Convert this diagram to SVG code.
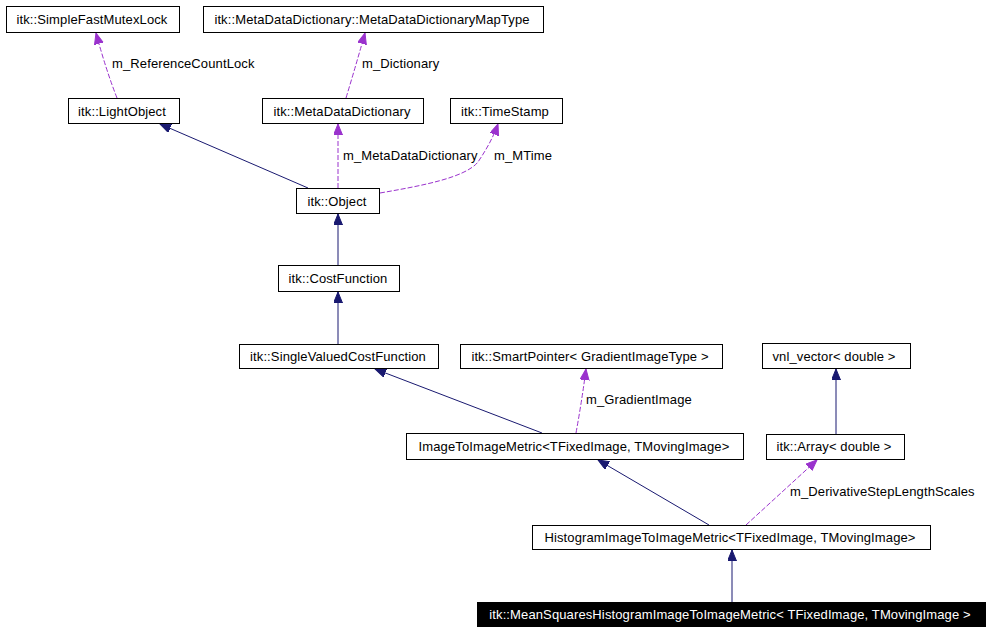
<svg xmlns="http://www.w3.org/2000/svg" width="991" height="632" viewBox="0 0 991 632">
<defs>
<style>
.box{fill:#fff;stroke:#000;stroke-width:1}
.t{font-family:"Liberation Sans",Arial,sans-serif;font-size:13px;letter-spacing:0.12px;fill:#000;text-anchor:middle}
.lbl{font-family:"Liberation Sans",Arial,sans-serif;font-size:13px;letter-spacing:0.12px;fill:#000}
.inh{fill:none;stroke:#191970;stroke-width:1}
.use{fill:none;stroke:#9a32cd;stroke-width:1;stroke-dasharray:5,2}
</style>
<marker id="ab" markerUnits="userSpaceOnUse" markerWidth="12" markerHeight="10" refX="11" refY="4.5" orient="auto"><path d="M0,0 L11,4.5 L0,9 z" fill="#191970" stroke="#191970"/></marker>
<marker id="ap" markerUnits="userSpaceOnUse" markerWidth="12" markerHeight="10" refX="11" refY="4.5" orient="auto"><path d="M0,0 L11,4.5 L0,9 z" fill="#9a32cd" stroke="#9a32cd"/></marker>
</defs>
<rect width="991" height="632" fill="#fff"/>
<g id="connectors">
<path class="use" marker-end="url(#ap)" d="M117,98 Q106,70 96,33"/>
<path class="use" marker-end="url(#ap)" d="M346,98 Q356,65 365,33"/>
<path class="inh" marker-end="url(#ab)" d="M308,188 L160,124"/>
<path class="use" marker-end="url(#ap)" d="M338,188 L338,124"/>
<path class="use" marker-end="url(#ap)" d="M380,193 C420,186 465,178 478,162 C486,150 493,138 498,124"/>
<path class="inh" marker-end="url(#ab)" d="M338,265 L338,214"/>
<path class="inh" marker-end="url(#ab)" d="M338,344 L338,292"/>
<path class="inh" marker-end="url(#ab)" d="M542,433 L375,369"/>
<path class="use" marker-end="url(#ap)" d="M576,433 Q582,400 586,369"/>
<path class="inh" marker-end="url(#ab)" d="M836,434 L836,369"/>
<path class="inh" marker-end="url(#ab)" d="M709,525 L598,460"/>
<path class="use" marker-end="url(#ap)" d="M746,525 L817,460"/>
<path class="inh" marker-end="url(#ab)" d="M732,602 L732,550"/>
<text class="lbl" x="112" y="68">m_ReferenceCountLock</text>
<text class="lbl" x="362" y="68">m_Dictionary</text>
<text class="lbl" x="343" y="160">m_MetaDataDictionary</text>
<text class="lbl" x="494" y="160">m_MTime</text>
<text class="lbl" x="586" y="404">m_GradientImage</text>
<text class="lbl" x="790" y="496">m_DerivativeStepLengthScales</text>
</g>
<g id="SimpleFastMutexLock"><rect class="box" x="6.5" y="6.5" width="173" height="26"/><text class="t" x="92" y="24">itk::SimpleFastMutexLock</text></g>
<g id="MetaDataDictionaryMapType"><rect class="box" x="203.5" y="6.5" width="340" height="26"/><text class="t" x="372" y="24">itk::MetaDataDictionary::MetaDataDictionaryMapType</text></g>
<g id="LightObject"><rect class="box" x="68.5" y="98.5" width="111" height="25"/><text class="t" x="122" y="116">itk::LightObject</text></g>
<g id="MetaDataDictionary"><rect class="box" x="262.5" y="98.5" width="161" height="25"/><text class="t" x="342" y="116">itk::MetaDataDictionary</text></g>
<g id="TimeStamp"><rect class="box" x="450.5" y="98.5" width="112" height="25"/><text class="t" x="505" y="116">itk::TimeStamp</text></g>
<g id="Object"><rect class="box" x="296.5" y="188.5" width="83" height="25"/><text class="t" x="337" y="206">itk::Object</text></g>
<g id="CostFunction"><rect class="box" x="278.5" y="265.5" width="121" height="26"/><text class="t" x="338" y="283">itk::CostFunction</text></g>
<g id="SingleValuedCostFunction"><rect class="box" x="239.5" y="344.5" width="199" height="24"/><text class="t" x="338" y="361">itk::SingleValuedCostFunction</text></g>
<g id="SmartPointer"><rect class="box" x="460.5" y="344.5" width="262" height="24"/><text class="t" x="590" y="361">itk::SmartPointer&lt; GradientImageType &gt;</text></g>
<g id="vnl_vector"><rect class="box" x="762.5" y="343.5" width="148" height="25"/><text class="t" x="834" y="361">vnl_vector&lt; double &gt;</text></g>
<g id="ImageToImageMetric"><rect class="box" x="406.5" y="433.5" width="337" height="26"/><text class="t" x="574" y="451">ImageToImageMetric&lt;TFixedImage, TMovingImage&gt;</text></g>
<g id="Array"><rect class="box" x="766.5" y="434.5" width="138" height="25"/><text class="t" x="834" y="451">itk::Array&lt; double &gt;</text></g>
<g id="HistogramImageToImageMetric"><rect class="box" x="532.5" y="525.5" width="398" height="24"/><text class="t" x="730" y="542">HistogramImageToImageMetric&lt;TFixedImage, TMovingImage&gt;</text></g>
<g id="MeanSquaresHistogramImageToImageMetric"><rect x="477" y="602" width="509" height="25" fill="#000"/><text class="t" x="730" y="619" style="fill:#fff">itk::MeanSquaresHistogramImageToImageMetric&lt; TFixedImage, TMovingImage &gt;</text></g>
</svg>
